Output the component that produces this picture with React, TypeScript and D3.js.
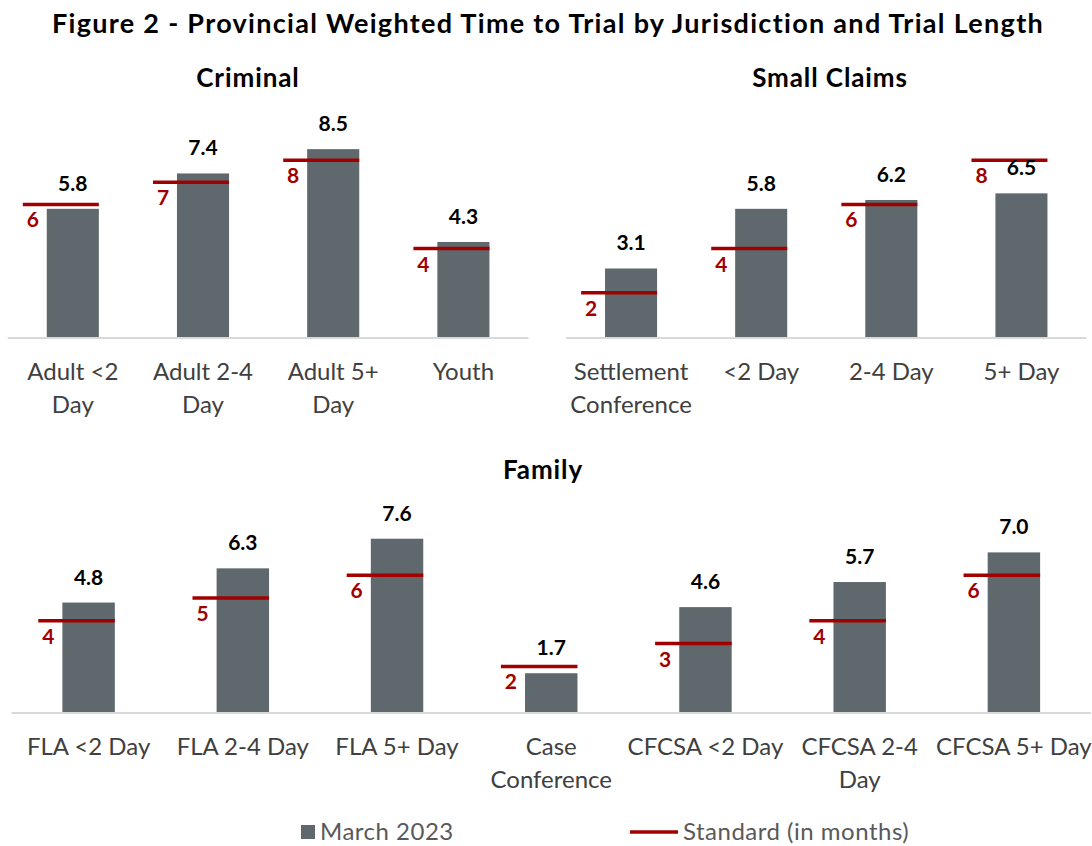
import { useEffect, useRef } from 'react';
import * as d3 from 'd3';

const criminalCategories = ['Adult <2\nDay', 'Adult 2-4\nDay', 'Adult 5+\nDay', 'Youth'];
const criminalValues = [5.8, 7.4, 8.5, 4.3];
const criminalStandards = [6, 7, 8, 4];

const smallClaimsCategories = ['Settlement\nConference', '<2 Day', '2-4 Day', '5+ Day'];
const smallClaimsValues = [3.1, 5.8, 6.2, 6.5];
const smallClaimsStandards = [2, 4, 6, 8];

const familyCategories = [
  'FLA <2 Day',
  'FLA 2-4 Day',
  'FLA 5+ Day',
  'Case\nConference',
  'CFCSA <2 Day',
  'CFCSA 2-4\nDay',
  'CFCSA 5+ Day',
];
const familyValues = [4.8, 6.3, 7.6, 1.7, 4.6, 5.7, 7.0];
const familyStandards = [4, 5, 6, 2, 3, 4, 6];

const seriesNames = ['March 2023', 'Standard (in months)'];

const BAR = '#5e686d';
const RED = '#a00000';
const FONT = 'Lato, Calibri, sans-serif';

type Panel = {
  title: string;
  titleX: number;
  titleY: number;
  categories: string[];
  values: number[];
  standards: number[];
  x0: number;
  x1: number;
  base: number;
  unit: number;
  padIn: number;
};

const App = () => {
  const ref = useRef<SVGSVGElement>(null!);

  useEffect(() => {
    const svg = d3.select(ref.current);
    svg.selectAll('*').remove();

    svg
      .append('text')
      .attr('x', 548)
      .attr('y', 33)
      .attr('text-anchor', 'middle')
      .attr('font-family', FONT)
      .attr('font-weight', 700)
      .attr('font-size', 27)
      .attr('letter-spacing', 1.3)
      .text('Figure 2 - Provincial Weighted Time to Trial by Jurisdiction and Trial Length');

    const panels: Panel[] = [
      {
        title: 'Criminal', titleX: 248, titleY: 87,
        categories: criminalCategories, values: criminalValues, standards: criminalStandards,
        x0: 7.7, x1: 528.5, base: 337, unit: 22.1, padIn: 0.6,
      },
      {
        title: 'Small Claims', titleX: 830, titleY: 87,
        categories: smallClaimsCategories, values: smallClaimsValues, standards: smallClaimsStandards,
        x0: 566, x1: 1086.5, base: 337, unit: 22.1, padIn: 0.6,
      },
      {
        title: 'Family', titleX: 543, titleY: 479,
        categories: familyCategories, values: familyValues, standards: familyStandards,
        x0: 11.5, x1: 1091, base: 712, unit: 22.8, padIn: 0.66,
      },
    ];

    panels.forEach(p => {
      const g = svg.append('g');
      const x = d3
        .scaleBand()
        .domain(p.categories)
        .range([p.x0, p.x1])
        .paddingInner(p.padIn)
        .paddingOuter(p.padIn / 2);
      const y = d3.scaleLinear().domain([0, 10]).range([p.base, p.base - p.unit * 10]);
      const w = x.bandwidth();
      const cx = (c: string) => (x(c) ?? 0) + w / 2;

      g.append('text')
        .attr('x', p.titleX)
        .attr('y', p.titleY)
        .attr('text-anchor', 'middle')
        .attr('font-family', FONT)
        .attr('font-weight', 700)
        .attr('font-size', 26)
        .attr('letter-spacing', 0.9)
        .text(p.title);

      g.selectAll('rect')
        .data(p.categories)
        .enter()
        .append('rect')
        .attr('x', d => x(d) ?? 0)
        .attr('y', (_, i) => y(p.values[i]))
        .attr('width', w)
        .attr('height', (_, i) => y(0) - y(p.values[i]))
        .attr('fill', BAR);

      g.append('line')
        .attr('x1', p.x0)
        .attr('x2', p.x1)
        .attr('y1', y(0) + 1)
        .attr('y2', y(0) + 1)
        .attr('stroke', '#d9d9d9')
        .attr('stroke-width', 2);

      g.selectAll('.std')
        .data(p.categories)
        .enter()
        .append('line')
        .attr('x1', d => cx(d) - 0.96 * w)
        .attr('x2', d => cx(d) + 0.5 * w)
        .attr('y1', (_, i) => y(p.standards[i]))
        .attr('y2', (_, i) => y(p.standards[i]))
        .attr('stroke', RED)
        .attr('stroke-width', 3.5);

      g.selectAll('.stdlab')
        .data(p.categories)
        .enter()
        .append('text')
        .attr('x', d => cx(d) - 0.96 * w + 10)
        .attr('y', (_, i) => y(p.standards[i]) + 23)
        .attr('text-anchor', 'middle')
        .attr('font-family', FONT)
        .attr('font-weight', 700)
        .attr('font-size', 21)
        .attr('fill', RED)
        .text((_, i) => String(p.standards[i]));

      g.selectAll('.val')
        .data(p.categories)
        .enter()
        .append('text')
        .attr('x', d => cx(d))
        .attr('y', (_, i) => y(p.values[i]) - 18)
        .attr('text-anchor', 'middle')
        .attr('font-family', FONT)
        .attr('font-weight', 700)
        .attr('font-size', 21)
        .attr('fill', '#000')
        .text((_, i) => d3.format('.1f')(p.values[i]));

      const labels = g
        .selectAll('.cat')
        .data(p.categories)
        .enter()
        .append('text')
        .attr('text-anchor', 'middle')
        .attr('font-family', FONT)
        .attr('font-size', 24)
        .attr('fill', '#404040');
      labels.each(function (d) {
        const t = d3.select(this);
        d.split('\n').forEach((line, j) => {
          t.append('tspan')
            .attr('x', cx(d))
            .attr('y', p.base + 43 + j * 32.5)
            .text(line);
        });
      });
    });

    // legend
    const lg = svg.append('g').attr('font-family', FONT).attr('font-size', 24).attr('fill', '#595959');
    lg.append('rect').attr('x', 301).attr('y', 825).attr('width', 14).attr('height', 14).attr('fill', BAR);
    lg.append('text').attr('x', 320).attr('y', 840).attr('letter-spacing', 0.5).text(seriesNames[0]);
    lg.append('line')
      .attr('x1', 630)
      .attr('x2', 678)
      .attr('y1', 832)
      .attr('y2', 832)
      .attr('stroke', RED)
      .attr('stroke-width', 3.5);
    lg.append('text').attr('x', 683).attr('y', 840).attr('letter-spacing', 0.5).text(seriesNames[1]);
  }, []);

  return (
    <svg
      ref={ref}
      width={1092}
      height={846}
      style={{ position: 'absolute', left: 0, top: 0, background: '#fff' }}
    ></svg>
  );
};

export default App;
